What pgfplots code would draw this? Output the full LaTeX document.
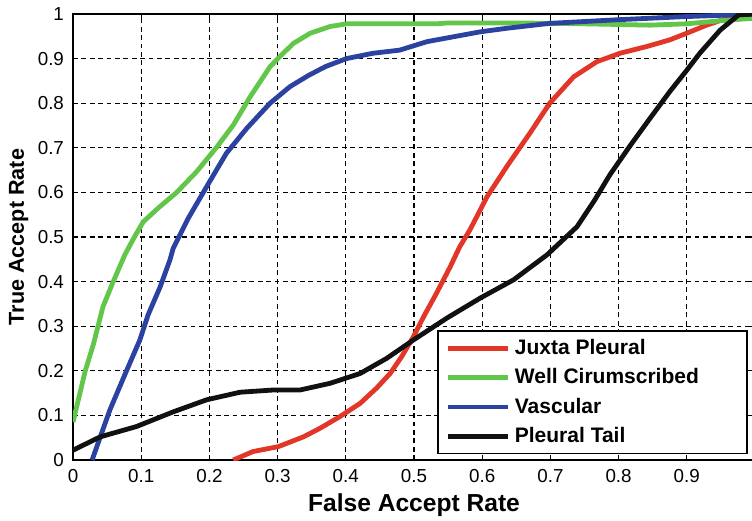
\documentclass[border=0pt]{standalone}
\usepackage{pgfplots}
\pgfplotsset{compat=1.18}
\usepackage{fontspec}
\setmainfont{Liberation Sans}
\definecolor{cred}{RGB}{226,54,40}
\definecolor{cgreen}{RGB}{98,198,74}
\definecolor{cblue}{RGB}{44,66,160}
\definecolor{cblack}{RGB}{17,17,17}
\begin{document}
\begin{tikzpicture}
\begin{axis}[
  name=ax,
  scale only axis,
  width=341pt, height=223pt,
  xmin=0, xmax=1, ymin=0, ymax=1,
  xtick={0,0.1,0.2,0.3,0.4,0.5,0.6,0.7,0.8,0.9,1},
  xticklabels={0,0.1,0.2,0.3,0.4,0.5,0.6,0.7,0.8,0.9,},
  ytick={0,0.1,0.2,0.3,0.4,0.5,0.6,0.7,0.8,0.9,1},
  yticklabels={0,0.1,0.2,0.3,0.4,0.5,0.6,0.7,0.8,0.9,1},
  grid=major,
  major grid style={black, line width=0.6pt, dash pattern=on 2.4pt off 1.8pt},
  axis line style={black, line width=0.9pt},
  tick style={black, line width=0.6pt},
  major tick length=2.5pt,
  tick align=inside,
  ticklabel style={font=\fontsize{9.4}{10}\selectfont},
  xticklabel style={yshift=-1pt},
  yticklabel style={xshift=-1pt},
  /pgf/number format/assume math mode=true,
  xlabel={False Accept Rate},
  ylabel={True Accept Rate},
  xlabel style={font=\bfseries\fontsize{12.3}{14}\selectfont, at={(axis description cs:0.5,0)}, anchor=center, yshift=-22.5pt},
  ylabel style={font=\bfseries\fontsize{10.8}{12}\selectfont, at={(axis description cs:-0.0795,0.5)}, anchor=center},
  legend cell align=left,
  legend style={at={(rel axis cs:0.534,0.291)}, anchor=north west,
    draw=black, line width=0.9pt, fill=white,
    font=\bfseries\fontsize{10.5}{12}\selectfont,
    inner xsep=4pt, inner ysep=2pt, row sep=1.6pt},
  legend image code/.code={\draw[#1, line width=2.4pt] (0pt,0pt) -- (30pt,0pt);},
  every axis plot/.append style={line width=2.4pt},
  clip=true,
]
\addplot[cred] coordinates {
(0.235,0) (0.264,0.019) (0.301,0.03) (0.338,0.052) (0.362,0.071) (0.391,0.097)
(0.421,0.127) (0.445,0.161) (0.465,0.194) (0.482,0.232) (0.499,0.276) (0.514,0.321)
(0.533,0.374) (0.553,0.433) (0.567,0.478) (0.582,0.516) (0.607,0.59) (0.636,0.658)
(0.67,0.733) (0.699,0.80) (0.734,0.859) (0.768,0.893) (0.802,0.912) (0.841,0.927)
(0.875,0.942) (0.9,0.957) (0.929,0.975) (0.958,0.99) (0.978,0.998) (1,1)};
\addlegendentry{Juxta Pleural}
\addplot[cgreen] coordinates {
(0,0.085) (0.018,0.2) (0.03,0.26) (0.044,0.344) (0.059,0.40) (0.076,0.46) (0.09,0.5)
(0.103,0.534) (0.125,0.565) (0.152,0.60) (0.181,0.646) (0.211,0.702) (0.235,0.751)
(0.26,0.815) (0.289,0.882) (0.303,0.904) (0.323,0.934) (0.348,0.957) (0.377,0.972)
(0.401,0.978) (0.45,0.978) (0.533,0.978) (0.55,0.98) (0.65,0.98) (0.75,0.978)
(0.846,0.975) (0.9,0.978) (0.95,0.985) (0.993,0.99) (1,0.99)};
\addlegendentry{Well Cirumscribed\hspace*{18pt}}
\addplot[cblue] coordinates {
(0.028,0) (0.054,0.112) (0.079,0.202) (0.098,0.269) (0.11,0.325) (0.128,0.389)
(0.142,0.448) (0.147,0.475) (0.169,0.542) (0.196,0.613) (0.225,0.688) (0.255,0.744)
(0.289,0.80) (0.318,0.837) (0.345,0.862) (0.37,0.882) (0.401,0.90) (0.44,0.912)
(0.479,0.919) (0.519,0.938) (0.558,0.949) (0.597,0.96) (0.636,0.968) (0.699,0.979)
(0.797,0.987) (0.895,0.994) (0.968,0.998) (1,1)};
\addlegendentry{Vascular}
\addplot[cblack] coordinates {
(0,0.022) (0.04,0.052) (0.093,0.075) (0.147,0.108) (0.196,0.135) (0.245,0.152)
(0.294,0.157) (0.333,0.157) (0.377,0.172) (0.421,0.194) (0.46,0.228) (0.499,0.269)
(0.548,0.318) (0.597,0.363) (0.646,0.404) (0.695,0.46) (0.739,0.523) (0.765,0.583)
(0.787,0.639) (0.817,0.705) (0.846,0.766) (0.875,0.826) (0.9,0.874) (0.919,0.912)
(0.949,0.964) (0.976,0.998) (1,1)};
\addlegendentry{Pleural Tail}
\end{axis}
\pgfresetboundingbox
\path ([shift={(-36.5pt,-30pt)}]ax.south west) rectangle ([shift={(-1.5pt,7pt)}]ax.north east);
\end{tikzpicture}
\end{document}
